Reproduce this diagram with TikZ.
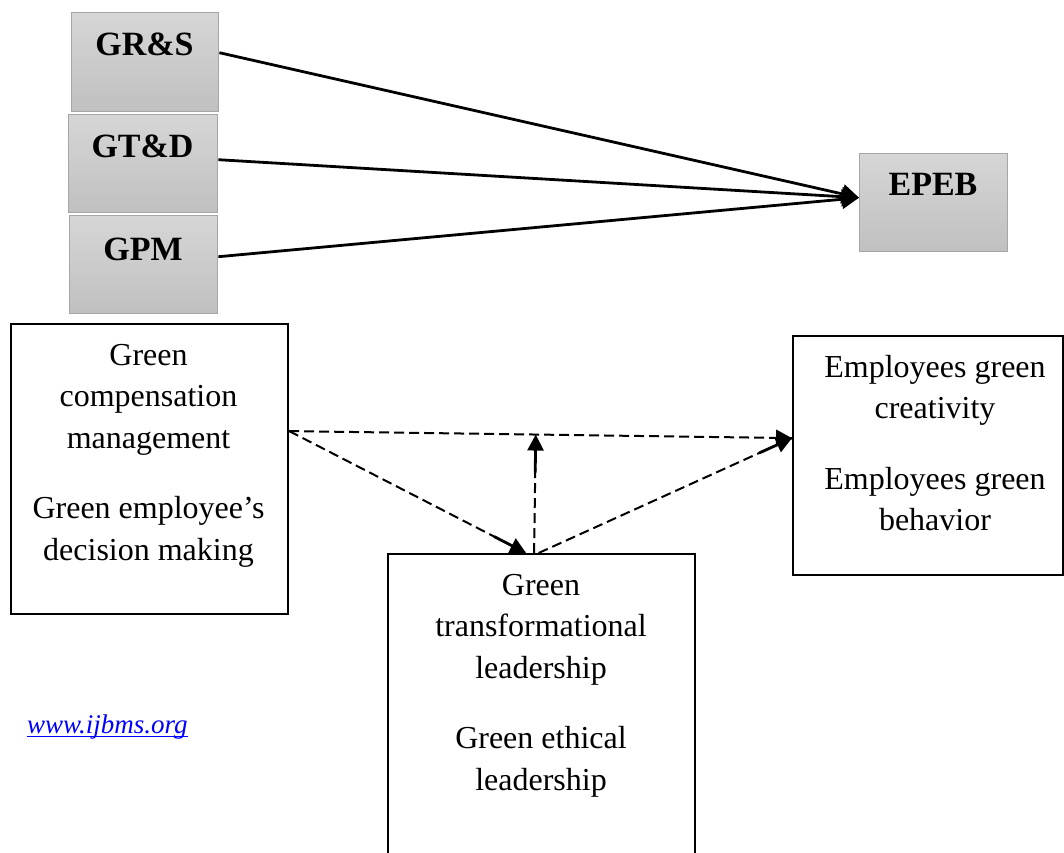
\documentclass[tikz,border=0pt]{standalone}
\usepackage{fontspec}
\setmainfont{Liberation Serif}
\usetikzlibrary{arrows.meta,calc}
\definecolor{boxtop}{HTML}{D6D6D6}
\definecolor{boxbot}{HTML}{C0C0C0}
\definecolor{boxedge}{HTML}{A6A6A6}
\definecolor{linkblue}{HTML}{0000FF}

\begin{document}
\begin{tikzpicture}[x=1pt,y=-1pt,
  graybox/.style={rectangle, draw=boxedge, line width=1.4pt, top color=boxtop,
    bottom color=boxbot, inner sep=0pt, anchor=north west},
  tag/.style={font=\fontsize{34}{40}\selectfont\bfseries, anchor=base, inner sep=0pt},
  framebox/.style={rectangle, draw=black, line width=2.2pt, inner sep=0pt, anchor=north west},
  boxtext/.style={font=\fontsize{32}{41.5}\selectfont, align=center, anchor=north, inner sep=0pt},
  solidarrow/.style={line width=2.8pt, -{Triangle[length=17pt,width=19pt]}},
  dashline/.style={line width=2pt, dash pattern=on 10pt off 5pt},
  dashtip/.style={line width=2.8pt, -{Triangle[length=16pt,width=16pt]}},
]
\clip (0,0) rectangle (1064,852);
\fill[white] (0,0) rectangle (1064,852);

% shaded construct boxes
\node[graybox, minimum width=147pt, minimum height=99pt] (grs) at (71,12) {};
\node[tag] (grst) at (144.5,55) {GR\&S};
\node[graybox, minimum width=149pt, minimum height=98pt] (gtd) at (68,114) {};
\node[tag] (gtdt) at (142.5,157) {GT\&D};
\node[graybox, minimum width=148pt, minimum height=98pt] (gpm) at (69,215) {};
\node[tag] (gpmt) at (143,260) {GPM};
\node[graybox, minimum width=148pt, minimum height=98pt] (epeb) at (859,153) {};
\node[tag] (epebt) at (933,195) {EPEB};

% paths into EPEB
\draw[solidarrow] ([yshift=9.5pt]grs.east) -- ([yshift=5pt]epeb.west);
\draw[solidarrow] ([yshift=4pt]gtd.east) -- ([yshift=5pt]epeb.west);
\draw[solidarrow] ([yshift=8pt]gpm.east) -- ([yshift=5pt]epeb.west);

% framed boxes of the mediation model
\node[framebox, minimum width=277pt, minimum height=290pt] (gcm) at (10,323) {};
\node[boxtext] (gcmt) at (148.5,336) {\strut Green\\compensation\\management\\[29pt]Green employee’s\\decision making};

\node[framebox, minimum width=270pt, minimum height=239pt] (egc) at (792,335) {};
\node[boxtext] (egct) at (935,348) {\strut Employees green\\creativity\\[29pt]Employees green\\behavior};

\node[framebox, minimum width=307pt, minimum height=320pt] (gtl) at (387,553) {};
\node[boxtext] (gtlt) at (541,566) {\strut Green\\transformational\\leadership\\[29pt]Green ethical\\leadership};

% dashed paths
\coordinate (src) at ([yshift=38pt]gcm.east);
\coordinate (dst) at ([yshift=17.5pt]egc.west);
\coordinate (inA) at ([xshift=-15.5pt]gtl.north);
\coordinate (upS) at ([xshift=-7.5pt]gtl.north);
\coordinate (outB) at ([xshift=-3pt]gtl.north);
\coordinate (upT) at ($(src)!(upS)!(dst)$);

\draw[dashline] (src) -- (dst);
\draw[dashtip] ($(dst)!16pt!(src)$) -- (dst);
\draw[dashline] (src) -- (inA);
\draw[dashtip] ($(inA)!36pt!(src)$) -- (inA);
\draw[dashline] (upS) -- (upT);
\draw[dashtip] ($(upT)!38pt!(upS)$) -- (upT);
\draw[dashline] (outB) -- (dst);
\draw[dashtip] ($(dst)!36pt!(outB)$) -- (dst);

% source link
\node[font=\fontsize{27}{32}\selectfont\itshape, text=linkblue, anchor=base west, inner sep=0pt] (link) at (27,733) {www.ijbms.org};
\draw[linkblue, line width=1.6pt] ([yshift=-3.5pt]link.base west) -- ([yshift=-3.5pt]link.base east);
\end{tikzpicture}
\end{document}
